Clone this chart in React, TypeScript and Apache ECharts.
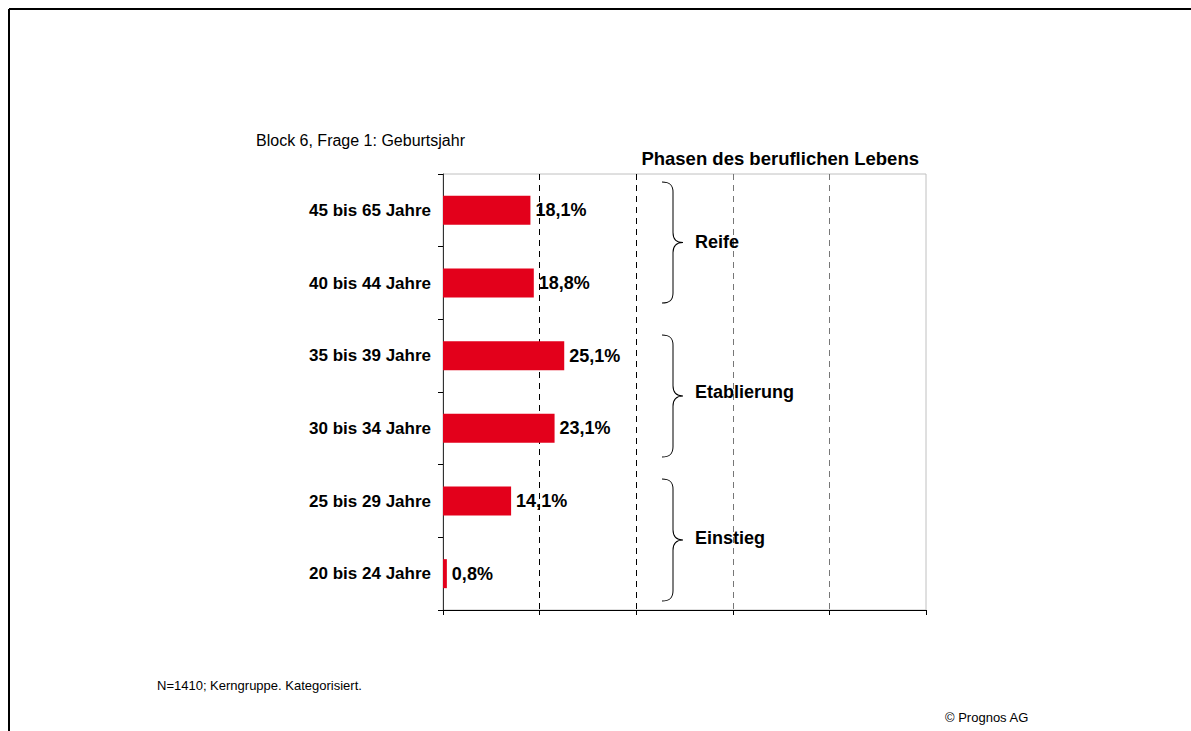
import React, { useEffect, useRef } from "react";
import * as echarts from "echarts";

const categories = [
  "45 bis 65 Jahre",
  "40 bis 44 Jahre",
  "35 bis 39 Jahre",
  "30 bis 34 Jahre",
  "25 bis 29 Jahre",
  "20 bis 24 Jahre",
];
const values = [18.1, 18.8, 25.1, 23.1, 14.1, 0.8];
const phases = ["Reife", "Etablierung", "Einstieg"];
const xTicks = [0, 20, 40, 60, 80, 100];

const FONT = "'Liberation Sans', Arial, Helvetica, sans-serif";

const braceD =
  "M0,0 C8,0 11,3 11,10 L11,50 C11,57 14,60 21,60 C14,60 11,63 11,70 L11,110 C11,117 8,120 0,120";

export default function App() {
  const ref = useRef<HTMLDivElement>(null);

  useEffect(() => {
    if (!ref.current) return;
    try {
      echarts.graphic.registerShape("brace", echarts.graphic.extendPath(braceD, {}));
    } catch (e) {}
    const chart = echarts.init(ref.current, undefined, { renderer: "svg" });

    const braces = [
      { top: 182, h: 121, label: phases[0], ly: 242 },
      { top: 335, h: 122, label: phases[1], ly: 392 },
      { top: 479, h: 122, label: phases[2], ly: 538 },
    ];

    const graphic: any[] = [
      {
        type: "line",
        shape: { x1: 9, y1: 9, x2: 1191, y2: 9 },
        style: { stroke: "#000", lineWidth: 2 },
        silent: true,
      },
      {
        type: "line",
        shape: { x1: 9, y1: 9, x2: 9, y2: 731 },
        style: { stroke: "#000", lineWidth: 2 },
        silent: true,
      },
      {
        type: "text",
        left: 256,
        top: 132,
        style: { text: "Block 6, Frage 1: Geburtsjahr", font: `16px ${FONT}`, fill: "#000" },
      },
      {
        type: "text",
        x: 919,
        y: 158,
        style: {
          text: "Phasen des beruflichen Lebens",
          font: `bold 18.5px ${FONT}`,
          fill: "#000",
          align: "right",
          verticalAlign: "middle",
        },
      },
      {
        type: "text",
        x: 157,
        y: 685,
        style: {
          text: "N=1410; Kerngruppe. Kategorisiert.",
          font: `13px ${FONT}`,
          fill: "#000",
          verticalAlign: "middle",
        },
      },
      {
        type: "text",
        x: 945,
        y: 717,
        style: { text: "© Prognos AG", font: `13px ${FONT}`, fill: "#000", verticalAlign: "middle" },
      },
    ];
    braces.forEach((b) => {
      graphic.push({
        type: "brace",
        x: 662,
        y: b.top,
        scaleX: 1,
        scaleY: b.h / 120,
        style: { stroke: "#000", fill: null, lineWidth: 1 },
        z: 10,
      });
      graphic.push({
        type: "text",
        x: 695,
        y: b.ly,
        style: {
          text: b.label,
          font: `bold 18px ${FONT}`,
          fill: "#000",
          verticalAlign: "middle",
        },
        z: 10,
      });
    });

    chart.setOption({
      animation: false,
      backgroundColor: "#fff",
      grid: {
        left: 443,
        top: 174,
        width: 483,
        height: 436,
        show: true,
        borderColor: "#c0c0c0",
        borderWidth: 1,
        backgroundColor: "transparent",
      },
      xAxis: {
        type: "value",
        min: xTicks[0],
        max: xTicks[xTicks.length - 1],
        interval: xTicks[1] - xTicks[0],
        axisLabel: { show: false },
        axisLine: { show: true, lineStyle: { color: "#000", width: 1 } },
        axisTick: { show: true, inside: false, length: 5, lineStyle: { color: "#000" } },
        splitLine: {
          show: true,
          showMinLine: false,
          showMaxLine: false,
          lineStyle: { color: ["#000", "#000", "#777", "#777"], type: [6, 5], width: 1 },
        },
      },
      yAxis: {
        type: "category",
        data: categories,
        inverse: true,
        axisLine: { show: true, lineStyle: { color: "#333", width: 1 } },
        axisTick: { show: true, alignWithLabel: false, length: 5, lineStyle: { color: "#000" } },
        axisLabel: {
          margin: 12,
          color: "#000",
          fontFamily: FONT,
          fontWeight: "bold",
          fontSize: 17,
        },
        splitLine: { show: false },
      },
      series: [
        {
          type: "bar",
          data: values,
          barWidth: 29,
          itemStyle: { color: "#e3001b" },
          label: {
            show: true,
            position: "right",
            distance: 5,
            color: "#000",
            fontFamily: FONT,
            fontWeight: "bold",
            fontSize: 18,
            formatter: (p: any) => String(p.value.toFixed(1)).replace(".", ",") + "%",
          },
        },
      ],
      graphic,
    });

    return () => chart.dispose();
  }, []);

  return (
    <div
      ref={ref}
      style={{ position: "absolute", left: 0, top: 0, width: 1191, height: 731 }}
    />
  );
}
